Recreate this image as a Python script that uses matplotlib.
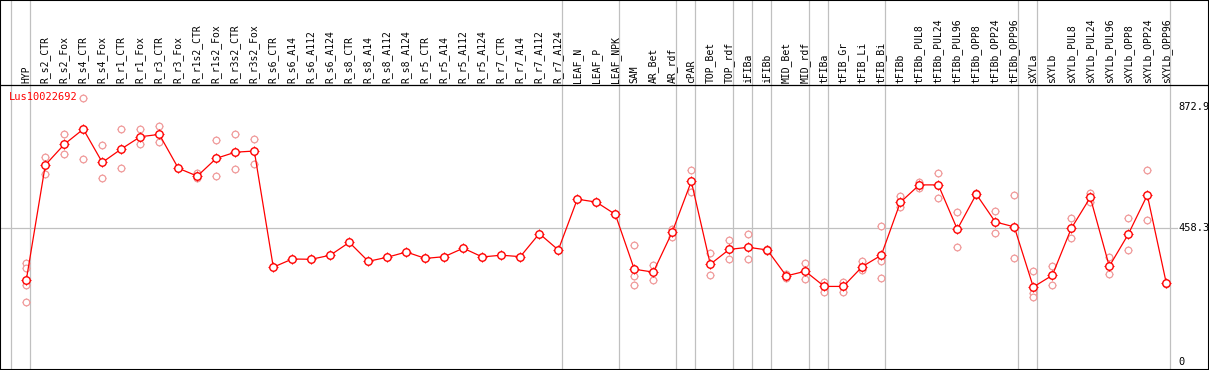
import matplotlib
matplotlib.use("Agg")
import matplotlib.pyplot as plt

# --- datos ---
labels = ["HYP", "R_s2_CTR", "R_s2_Fox", "R_s4_CTR", "R_s4_Fox", "R_r1_CTR", "R_r1_Fox",
          "R_r3_CTR", "R_r3_Fox", "R_r1s2_CTR", "R_r1s2_Fox", "R_r3s2_CTR", "R_r3s2_Fox",
          "R_s6_CTR", "R_s6_A14", "R_s6_A112", "R_s6_A124", "R_s8_CTR", "R_s8_A14",
          "R_s8_A112", "R_s8_A124", "R_r5_CTR", "R_r5_A14", "R_r5_A112", "R_r5_A124",
          "R_r7_CTR", "R_r7_A14", "R_r7_A112", "R_r7_A124", "LEAF_N", "LEAF_P", "LEAF_NPK",
          "SAM", "AR_Bet", "AR_rdf", "cPAR", "TOP_Bet", "TOP_rdf", "iFIBa", "iFIBb",
          "MID_Bet", "MID_rdf", "tFIBa", "tFIB_Gr", "tFIB_Li", "tFIB_Bi", "tFIBb",
          "tFIBb_PUL8", "tFIBb_PUL24", "tFIBb_PUL96", "tFIBb_OPP8", "tFIBb_OPP24",
          "tFIBb_OPP96", "sXYLa", "sXYLb", "sXYLb_PUL8", "sXYLb_PUL24", "sXYLb_PUL96",
          "sXYLb_OPP8", "sXYLb_OPP24", "sXYLb_OPP96"]

mean_vals = [281, 675, 746, 798, 684, 730, 772, 780, 664, 637, 698, 719, 723,
             325, 353, 352, 366, 410, 345, 359, 377, 355, 361, 390, 360, 366, 361, 440, 384,
             558, 548, 506,
             318, 308, 446, 619, 335, 386, 393, 384, 295, 311,
             259, 259, 327, 366, 547,
             607, 607, 455, 575, 480, 463,
             257, 297, 458, 564, 328, 438, 572, 270]

rep_vals = [[338, 323, 264, 205], [702, 643], [782, 712], [904, 696], [743, 630],
            [797, 664], [797, 748], [808, 753], [], [649, 630], [760, 636], [780, 660],
            [763, 678],
            [], [], [], [], [], [], [], [], [], [], [], [], [], [], [], [],
            [], [], [],
            [400, 296, 263], [331, 282], [456, 427], [657, 584], [372, 297], [418, 353],
            [439, 352], [388, 380], [300, 288], [339, 283],
            [275, 239], [275, 239], [346, 314], [465, 346, 287], [569, 530],
            [616, 597], [647, 561], [513, 395], [580, 572], [516, 441], [571, 356],
            [311, 235, 223], [328, 263], [492, 426], [580, 548], [360, 300], [492, 384],
            [658, 487], [272, 268]]

group_breaks = [-1, 0, 28, 31, 34, 35, 37, 38, 39, 41, 42, 45, 52, 53, 60]
y_ticks = [0, 458.3, 872.9]
gene = "Lus10022692"

# --- figura ---
W, H = 1209, 370
fig = plt.figure(figsize=(W / 100, H / 100), dpi=100)
ax = fig.add_axes([0, 0, 1, 1])

# mapeo pixel -> datos
px_per_cat = 19.0
x0_px = 26.3
def xpx(p):
    return (p - x0_px) / px_per_cat
y0_px, y_scale = 362.0, 0.2918
def ypx(p):
    return (y0_px - p) / y_scale

ax.set_xlim(xpx(0), xpx(W))
ax.set_ylim(ypx(H), ypx(0))
ax.set_xticks([])
ax.set_yticks([])
for s in ax.spines.values():
    s.set_linewidth(1.5)
    s.set_color("black")

grey = "#c0c0c0"
mono = "DejaVu Sans Mono"

# lineas de grupo y rejilla
for b in group_breaks:
    ax.axvline(b + 0.22, color=grey, lw=0.9, zorder=1)
ax.plot([xpx(0), xpx(1177)], [458.3, 458.3], color=grey, lw=0.9, zorder=1)
ax.axhline(ypx(85), color="black", lw=0.9, zorder=2)

# replicas
xs = list(range(len(labels)))
rx, ry = [], []
for i, reps in enumerate(rep_vals):
    for v in reps:
        rx.append(i)
        ry.append(v)
pink = "#f09a9a"
ax.plot(rx, ry, ls="none", marker="+", ms=6.2, mew=0.7, color=pink, zorder=3)
ax.plot(rx, ry, ls="none", marker="o", ms=4.8, mew=0.9, mfc="white", mec=pink, zorder=3)

# serie media
ax.plot(xs, mean_vals, color="red", lw=0.9, zorder=4)
ax.plot(xs, mean_vals, ls="none", marker="+", ms=7.0, mew=0.8, color="red", zorder=5)
ax.plot(xs, mean_vals, ls="none", marker="o", ms=5.4, mew=1.0, mfc="white", mec="red", zorder=5)

# etiquetas de categorias
for i, lab in enumerate(labels):
    ax.text(i, ypx(83), lab, rotation=90, ha="center", va="bottom",
            family=mono, fontsize=7, color="black")

# etiquetas del eje derecho
for v in y_ticks:
    ax.text(xpx(1178), v, f"{v:g}", ha="left", va="center",
            family=mono, fontsize=7.5, color="black")

ax.text(xpx(9), ypx(97), gene, ha="left", va="center", family=mono, fontsize=7.5, color="red")

fig.savefig("out.png", dpi=100)
